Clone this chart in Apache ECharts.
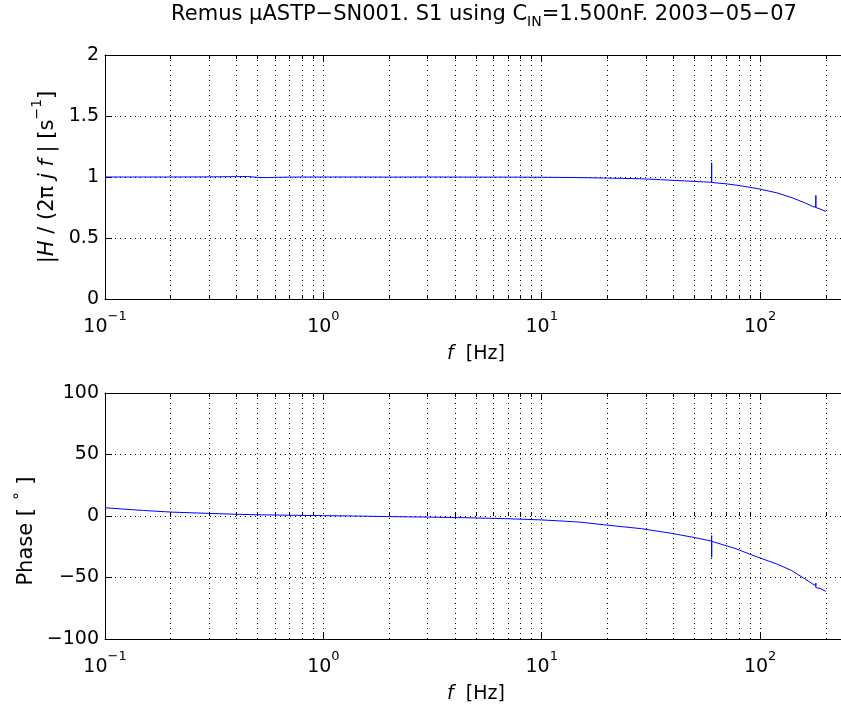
<!DOCTYPE html>
<html>
<head>
<meta charset="utf-8">
<script src="https://cdn.jsdelivr.net/npm/echarts@6/dist/echarts.min.js"></script>
<style>html,body{margin:0;padding:0;background:#fff}#c{width:841px;height:706px}</style>
</head>
<body>
<div id="c"></div>
<script>
// ---- data ----
const magFreq   = [0.1, 0.15, 0.2, 0.3, 0.4, 0.45, 0.5, 0.55, 0.6, 0.7, 0.8, 1, 1.5, 2, 3, 5, 7, 10, 15, 20, 28, 35, 45, 55, 59.9, 60, 60.05, 70, 80, 98, 120, 140, 160, 175, 179.9, 180, 180.1, 190, 200];
const magValues = [1.000, 1.000, 1.000, 1.001, 1.003, 1.004, 0.997, 0.995, 0.997, 0.999, 1.000, 1.000, 1.000, 0.999, 1.000, 0.999, 0.999, 0.998, 0.995, 0.991, 0.986, 0.978, 0.968, 0.960, 0.957, 1.117, 0.955, 0.944, 0.930, 0.904, 0.869, 0.830, 0.789, 0.757, 0.752, 0.849, 0.750, 0.735, 0.718];

const phaseFreq   = [0.1, 0.12, 0.15, 0.2, 0.3, 0.4, 0.5, 0.7, 1, 1.5, 2, 3, 4.5, 7, 10, 13, 15, 19.4, 28.6, 39, 50, 59.9, 60, 60, 60.05, 76.6, 97, 120, 139, 160, 173, 179.9, 180, 180, 180.1, 190, 200];
const phaseValues = [6.7, 5.7, 4.5, 3.2, 2.1, 1.4, 1.0, 0.6, 0.3, -0.1, -0.5, -0.9, -1.4, -2.2, -3.2, -4.3, -5.0, -7.2, -10.3, -14.0, -17.5, -20.4, -15.9, -33.6, -20.6, -26.3, -33.3, -39.2, -44.2, -51.0, -54.9, -56.7, -54.6, -58.2, -57.0, -59.1, -61.3];

const xTickValues  = [0.1, 1, 10, 100];
const xTickLabels  = ['{n|10}{sup|\u22121}', '{n|10}{sup|0}', '{n|10}{sup|1}', '{n|10}{sup|2}'];
const xMinorValues = [0.2,0.3,0.4,0.5,0.6,0.7,0.8,0.9, 2,3,4,5,6,7,8,9, 20,30,40,50,60,70,80,90, 200];
const magTicks     = [0, 0.5, 1, 1.5, 2];
const magTickLabels   = ['0', '0.5', '1', '1.5', '2'];
const phaseTicks   = [-100, -50, 0, 50, 100];
const phaseTickLabels = ['\u2212100', '\u221250', '0', '50', '100'];

const titleText = '{n|Remus \u00b5ASTP\u2212SN001. S1 using C}{sub|IN}{n|=1.500nF. 2003\u221205\u221207}';
const magLabel   = '{n||}{i|H}{n| / (2\u03c0 }{i|j}{n| }{i|f}{n| | [s}{sup|\u22121}{n|]}';
const phaseLabel = '{n|Phase [ }{deg|\u2218}{end| ]}';
const xLabel     = '{i|f}{n|  [Hz]}';

// ---- chart ----
const FONT = 'DejaVu Sans';
const FS = 19;
const chart = echarts.init(document.getElementById('c'));

function xAxes(g) {
  const common = { type: 'log', logBase: 10, gridIndex: g, min: 0.1, max: 250 };
  const dotted = { show: true, lineStyle: { color: '#000', width: 1, type: [1, 4] } };
  return [
    Object.assign({}, common, {
      position: 'bottom',
      axisLine: { show: true, onZero: false, lineStyle: { color: '#000', width: 1 } },
      axisTick: { show: true, inside: true, length: 7, lineStyle: { color: '#000' }, customValues: xTickValues },
      axisLabel: {
        show: true, margin: 13, customValues: xTickValues,
        formatter: function (v) {
          const e = Math.round(Math.log10(v));
          const idx = xTickValues.findIndex(t => Math.abs(Math.log10(t) - e) < 1e-6);
          if (idx < 0 || Math.abs(Math.log10(v) - e) > 1e-6) return '';
          return xTickLabels[idx];
        },
        rich: {
          n: { fontFamily: FONT, fontSize: FS, lineHeight: 30, color: '#000' },
          sup: { fontFamily: FONT, fontSize: 13, lineHeight: 30, padding: [0, 0, 21, 0], color: '#000' }
        }
      },
      splitLine: dotted,
      name: xLabel, nameLocation: 'middle', nameGap: 41,
      nameTextStyle: {
        rich: {
          n: { fontFamily: FONT, fontSize: FS, lineHeight: 22, color: '#000' },
          i: { fontFamily: FONT, fontSize: FS, lineHeight: 22, fontStyle: 'italic', color: '#000' }
        }
      }
    }),
    Object.assign({}, common, {
      position: 'bottom',
      axisLine: { show: false },
      axisTick: { show: true, inside: true, length: 4, lineStyle: { color: '#000' }, customValues: xMinorValues },
      axisLabel: { show: false },
      splitLine: dotted
    }),
    Object.assign({}, common, {
      position: 'top',
      axisLine: { show: true, onZero: false, lineStyle: { color: '#000', width: 1 } },
      axisTick: { show: true, inside: true, length: 7, lineStyle: { color: '#000' }, customValues: xTickValues },
      axisLabel: { show: false },
      splitLine: { show: false }
    }),
    Object.assign({}, common, {
      position: 'top',
      axisLine: { show: false },
      axisTick: { show: true, inside: true, length: 4, lineStyle: { color: '#000' }, customValues: xMinorValues },
      axisLabel: { show: false },
      splitLine: { show: false }
    })
  ];
}

function yAxis(g, ticks, labels, name, gap) {
  const NS = 21;
  return {
    type: 'value', gridIndex: g, min: ticks[0], max: ticks[ticks.length - 1],
    interval: ticks[1] - ticks[0],
    axisLine: { show: true, onZero: false, lineStyle: { color: '#000', width: 1 } },
    axisTick: { show: true, inside: true, length: 7, lineStyle: { color: '#000' } },
    axisLabel: {
      margin: 6, color: '#000', fontFamily: FONT, fontSize: FS,
      formatter: function (v) {
        const idx = ticks.findIndex(t => Math.abs(t - v) < 1e-9);
        return idx >= 0 ? labels[idx] : '';
      }
    },
    splitLine: { show: true, lineStyle: { color: '#000', width: 1, type: [1, 4] } },
    name: name, nameLocation: 'middle', nameGap: gap, nameRotate: 90,
    nameMoveOverlap: false,
    nameTextStyle: {
      rich: {
        n: { fontFamily: FONT, fontSize: NS, lineHeight: 28, color: '#000' },
        i: { fontFamily: FONT, fontSize: NS, lineHeight: 28, fontStyle: 'italic', color: '#000' },
        sup: { fontFamily: FONT, fontSize: 14, lineHeight: 28, padding: [0, 0, 22, 0], color: '#000' },
        deg: { fontFamily: FONT, fontSize: 16, lineHeight: 28, padding: [0, 0, 20, 0], color: '#000' },
        end: { fontFamily: FONT, fontSize: NS, lineHeight: 28, padding: [0, 30, 0, 0], color: '#000' }
      }
    }
  };
}

const option = {
  animation: false,
  backgroundColor: '#fff',
  graphic: [{
    type: 'text', x: 484, y: 2, silent: true,
    style: {
      text: titleText, align: 'center', verticalAlign: 'top',
      rich: {
        n: { fontFamily: FONT, fontSize: 21, lineHeight: 26, fill: '#000', color: '#000' },
        sub: { fontFamily: FONT, fontSize: 14, lineHeight: 26, padding: [14, 0, 0, 0], fill: '#000', color: '#000' }
      }
    }
  }],
  grid: [
    { left: 105, right: -6, top: 55, height: 244, outerBoundsMode: 'none', containLabel: false },
    { left: 105, right: -6, top: 393, height: 246, outerBoundsMode: 'none', containLabel: false }
  ],
  xAxis: xAxes(0).concat(xAxes(1)),
  yAxis: [
    yAxis(0, magTicks, magTickLabels, magLabel, 43),
    yAxis(1, phaseTicks, phaseTickLabels, phaseLabel, 64)
  ],
  series: [
    {
      type: 'line', xAxisIndex: 0, yAxisIndex: 0, showSymbol: false, symbol: 'none',
      lineStyle: { color: '#0000ff', width: 1 }, itemStyle: { color: '#0000ff' },
      data: magFreq.map((f, i) => [f, magValues[i]])
    },
    {
      type: 'line', xAxisIndex: 4, yAxisIndex: 1, showSymbol: false, symbol: 'none',
      lineStyle: { color: '#0000ff', width: 1 }, itemStyle: { color: '#0000ff' },
      data: phaseFreq.map((f, i) => [f, phaseValues[i]])
    }
  ]
};
chart.setOption(option);
</script>
</body>
</html>
